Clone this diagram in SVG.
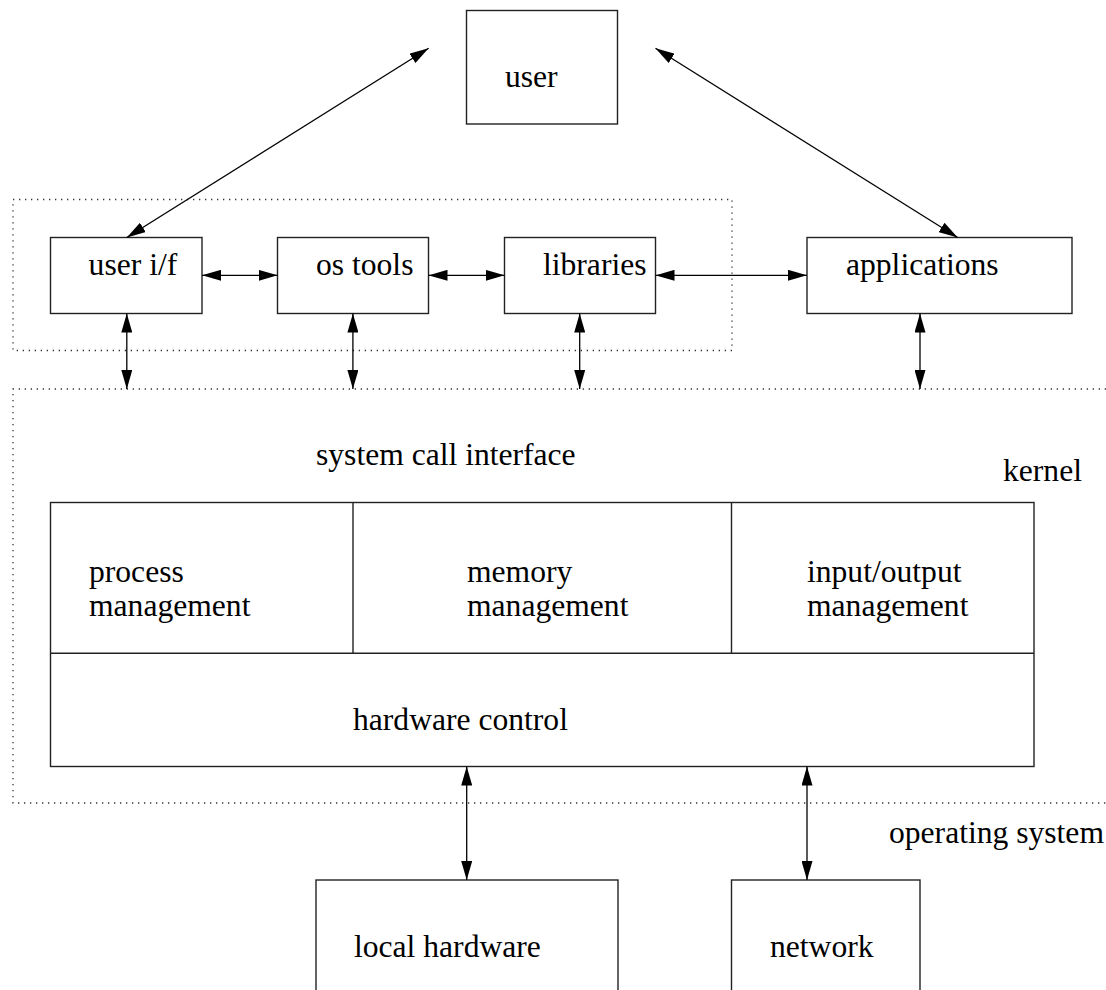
<svg xmlns="http://www.w3.org/2000/svg" width="1106" height="990" viewBox="0 0 1106 990">
<style>
  .box { fill: #fff; stroke: #222; stroke-width: 1.4; }
  .div { fill: none; stroke: #222; stroke-width: 1.4; }
  .dot { fill: none; stroke: #333; stroke-width: 1.3; stroke-dasharray: 1.3 4.7; }
  .con { fill: none; stroke: #000; stroke-width: 1.3; marker-start: url(#ah); marker-end: url(#ah); }
  text { font-family: "Liberation Serif", "Times New Roman", serif; font-size: 31.6px; fill: #000; }
</style>
<defs>
  <marker id="ah" viewBox="0 0 19 11" refX="19" refY="5.5" markerWidth="19" markerHeight="11" markerUnits="userSpaceOnUse" orient="auto-start-reverse">
    <path d="M0,0 L19,5.5 L0,11 z" fill="#000"/>
  </marker>
</defs>
<rect width="1106" height="990" fill="#fff"/>

<g id="userland-boundary">
  <rect class="dot" x="13" y="199.5" width="719" height="151"/>
</g>
<g id="kernel-boundary">
  <path class="dot" d="M1106,389 H13 V803 H1106"/>
  <text x="1003" y="481">kernel</text>
  <text x="316" y="465">system call interface</text>
  <text x="889" y="843">operating system</text>
</g>

<g id="user">
  <rect class="box" x="466.5" y="10.5" width="151" height="113.5"/>
  <text x="505" y="87">user</text>
</g>
<g id="user-if">
  <rect class="box" x="50.5" y="237.5" width="151.5" height="76"/>
  <text x="88.6" y="275">user i/f</text>
</g>
<g id="os-tools">
  <rect class="box" x="277.5" y="237.5" width="151" height="76"/>
  <text x="316" y="275">os tools</text>
</g>
<g id="libraries">
  <rect class="box" x="504.5" y="237.5" width="151" height="76"/>
  <text x="543" y="275">libraries</text>
</g>
<g id="applications">
  <rect class="box" x="807" y="237.5" width="265" height="76"/>
  <text x="846" y="275">applications</text>
</g>

<g id="kernel">
  <rect class="box" x="50.5" y="502.5" width="983.5" height="264"/>
  <line class="div" x1="50.5" y1="653.3" x2="1034" y2="653.3"/>
  <line class="div" x1="353" y1="502.5" x2="353" y2="653.3"/>
  <line class="div" x1="731.5" y1="502.5" x2="731.5" y2="653.3"/>
</g>
<g id="process-management">
  <text x="89" y="582">process</text>
  <text x="89" y="616">management</text>
</g>
<g id="memory-management">
  <text x="467" y="582">memory</text>
  <text x="467" y="616">management</text>
</g>
<g id="io-management">
  <text x="807" y="582">input/output</text>
  <text x="807" y="616">management</text>
</g>
<g id="hardware-control">
  <text x="353" y="730">hardware control</text>
</g>

<g id="local-hardware">
  <rect class="box" x="316" y="880" width="302" height="120"/>
  <text x="354" y="957">local hardware</text>
</g>
<g id="network">
  <rect class="box" x="731.5" y="880" width="188.5" height="120"/>
  <text x="770" y="957">network</text>
</g>

<g id="connectors">
  <line class="con" x1="126.8" y1="237.5" x2="428.6" y2="48.3"/>
  <line class="con" x1="655.5" y1="48.3" x2="957.7" y2="237.5"/>
  <line class="con" x1="202" y1="275.3" x2="277.5" y2="275.3"/>
  <line class="con" x1="428.5" y1="275.3" x2="504.5" y2="275.3"/>
  <line class="con" x1="655.5" y1="275.3" x2="807" y2="275.3"/>
  <line class="con" x1="126.8" y1="313.5" x2="126.8" y2="389"/>
  <line class="con" x1="352.9" y1="313.5" x2="352.9" y2="389"/>
  <line class="con" x1="579.7" y1="313.5" x2="579.7" y2="389"/>
  <line class="con" x1="920" y1="313.5" x2="920" y2="389"/>
  <line class="con" x1="466.7" y1="766.5" x2="466.7" y2="880"/>
  <line class="con" x1="807" y1="766.5" x2="807" y2="880"/>
</g>
</svg>
